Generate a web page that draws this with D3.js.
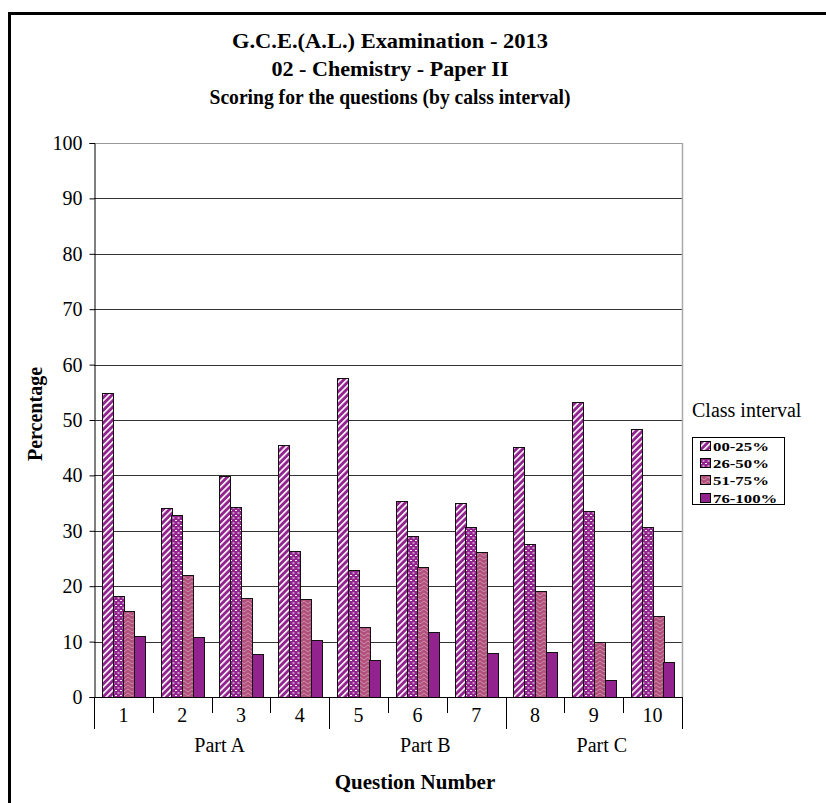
<!DOCTYPE html>
<html>
<head>
<meta charset="utf-8">
<script src="https://cdn.jsdelivr.net/npm/d3@7"></script>
<style>
  html, body { margin: 0; padding: 0; background: #fff; }
  svg { display: block; }
  text { font-family: "Liberation Serif", "Times New Roman", serif; fill: #000; }
</style>
</head>
<body>
<svg id="chart" width="826" height="803"></svg>
<script>
// ---- data ----
const questions = ["1", "2", "3", "4", "5", "6", "7", "8", "9", "10"];
const partOfQuestion = ["Part A", "Part A", "Part A", "Part A", "Part B", "Part B", "Part B", "Part C", "Part C", "Part C"];
const partNames = ["Part A", "Part B", "Part C"];
const seriesNames = ["00-25%", "26-50%", "51-75%", "76-100%"];
const s00_25 = [54.8, 34.2, 39.9, 45.4, 57.6, 35.3, 35.1, 45.1, 53.2, 48.3];
const s26_50 = [18.3, 32.9, 34.3, 26.3, 23.0, 29.1, 30.6, 27.6, 33.5, 30.6];
const s51_75 = [15.6, 22.0, 17.9, 17.7, 12.6, 23.5, 26.1, 19.1, 9.9, 14.7];
const s76_100 = [11.0, 10.8, 7.7, 10.2, 6.6, 11.8, 7.9, 8.1, 3.1, 6.3];
const yTicks = [0, 10, 20, 30, 40, 50, 60, 70, 80, 90, 100];
const titleLines = ["G.C.E.(A.L.) Examination - 2013", "02 - Chemistry - Paper II", "Scoring for the questions (by calss interval)"];
const seriesValues = [s00_25, s26_50, s51_75, s76_100];

// ---- layout ----
const svg = d3.select("#chart");
const plot = { left: 94, right: 682, top: 143, bottom: 697 };
const purple = "#92228E";
const mauve = "#B1507C";

svg.append("rect").attr("width", 826).attr("height", 803).attr("fill", "#fff");

// patterns
const defs = svg.append("defs");
// 00-25%: purple with white upward diagonal stripes
const p0 = defs.append("pattern").attr("id", "pat0").attr("patternUnits", "userSpaceOnUse")
  .attr("width", 4.5).attr("height", 20).attr("patternTransform", "rotate(45)");
p0.append("rect").attr("width", 4.5).attr("height", 20).attr("fill", purple);
p0.append("rect").attr("x", 0).attr("width", 1.6).attr("height", 20).attr("fill", "#fff");
// 26-50%: purple with small staggered white dashes
const p1 = defs.append("pattern").attr("id", "pat1").attr("patternUnits", "userSpaceOnUse")
  .attr("width", 5).attr("height", 5);
p1.append("rect").attr("width", 5).attr("height", 5).attr("fill", purple);
p1.append("rect").attr("x", 0).attr("y", 0).attr("width", 2).attr("height", 1).attr("fill", "#fff");
p1.append("rect").attr("x", 2.5).attr("y", 2.5).attr("width", 2).attr("height", 1).attr("fill", "#fff");
// 51-75%: mauve with faint zig-zag lines
const p2 = defs.append("pattern").attr("id", "pat2").attr("patternUnits", "userSpaceOnUse")
  .attr("width", 8).attr("height", 8);
p2.append("rect").attr("width", 8).attr("height", 8).attr("fill", mauve);
p2.append("path").attr("d", "M0,1 L4,4 L8,1 M0,5 L4,8 M4,8 L8,5").attr("fill", "none")
  .attr("stroke", "#fff").attr("stroke-opacity", 0.45).attr("stroke-width", 0.8);

const fills = ["url(#pat0)", "url(#pat1)", "url(#pat2)", purple];

// frame (left and top)
svg.append("line").attr("x1", 9.5).attr("x2", 9.5).attr("y1", 12).attr("y2", 803).attr("stroke", "#000").attr("stroke-width", 3);
svg.append("line").attr("x1", 8).attr("x2", 826).attr("y1", 13.5).attr("y2", 13.5).attr("stroke", "#000").attr("stroke-width", 3);

// title
const titleWidths = [316, 237, 361];
svg.append("g").selectAll("text").data(titleLines).join("text")
  .attr("x", 390).attr("y", (d, i) => 48 + i * 28)
  .attr("text-anchor", "middle").attr("font-weight", "bold").attr("font-size", 21)
  .attr("textLength", (d, i) => titleWidths[i]).attr("lengthAdjust", "spacingAndGlyphs")
  .text(d => d);

// scales
const y = d3.scaleLinear().domain([0, 100]).range([plot.bottom, plot.top]);
const x = d3.scaleBand().domain(questions).range([plot.left, plot.right]).padding(0);
const xs = d3.scaleBand().domain(seriesNames).range([0, x.bandwidth()]).paddingInner(0).paddingOuter(0.71);

// gridlines
svg.append("g").selectAll("line").data(yTicks.filter(t => t > 0)).join("line")
  .attr("x1", plot.left).attr("x2", plot.right)
  .attr("y1", d => Math.round(y(d)) + 0.5).attr("y2", d => Math.round(y(d)) + 0.5)
  .attr("stroke", d => d === 100 ? "#999" : "#333").attr("stroke-width", 1);
// right plot border
svg.append("line").attr("x1", plot.right + 0.5).attr("x2", plot.right + 0.5)
  .attr("y1", plot.top).attr("y2", plot.bottom).attr("stroke", "#aaa").attr("stroke-width", 1.5);

// y axis
const yAxis = d3.axisLeft(y).tickValues(yTicks).tickSize(5).tickPadding(7);
const yg = svg.append("g").attr("transform", `translate(${plot.left + 0.5},0)`).call(yAxis);
yg.select(".domain").attr("stroke", "#000");
yg.selectAll(".tick line").attr("stroke", "#000");
yg.selectAll(".tick text").attr("font-size", 20).attr("font-family", "Liberation Serif, serif").attr("fill", "#000");

// bars
const barG = svg.append("g");
seriesNames.forEach((s, si) => {
  barG.append("g").selectAll("rect").data(questions).join("rect")
    .attr("x", q => Math.round(x(q) + xs(s)) + 0.5)
    .attr("width", Math.round(xs.bandwidth()))
    .attr("y", (q, qi) => Math.round(y(seriesValues[si][qi])) + 0.5)
    .attr("height", (q, qi) => Math.round(y(0)) - Math.round(y(seriesValues[si][qi])))
    .attr("fill", fills[si])
    .attr("stroke", "#111").attr("stroke-width", 1);
});

// x axis
svg.append("line").attr("x1", plot.left).attr("x2", plot.right + 1)
  .attr("y1", plot.bottom + 0.5).attr("y2", plot.bottom + 0.5).attr("stroke", "#000");
// category boundaries
const boundaries = questions.map((q, i) => i).concat([questions.length]);
const bx = i => i < questions.length ? x(questions[i]) : x(questions[questions.length - 1]) + x.bandwidth();
const isGroupEdge = i => i === 0 || i === questions.length || partOfQuestion[i] !== partOfQuestion[i - 1];
svg.append("g").selectAll("line").data(boundaries).join("line")
  .attr("x1", i => Math.round(bx(i)) + 0.5).attr("x2", i => Math.round(bx(i)) + 0.5)
  .attr("y1", plot.bottom).attr("y2", i => isGroupEdge(i) ? plot.bottom + 32 : plot.bottom + 16)
  .attr("stroke", "#000").attr("stroke-width", 1);
// category labels
svg.append("g").selectAll("text").data(questions).join("text")
  .attr("x", q => x(q) + x.bandwidth() / 2).attr("y", 722)
  .attr("text-anchor", "middle").attr("font-size", 20).text(q => q);
// part labels
svg.append("g").selectAll("text").data(partNames).join("text")
  .attr("x", p => {
    const idx = partOfQuestion.map((d, i) => d === p ? i : -1).filter(i => i >= 0);
    return (bx(idx[0]) + bx(idx[idx.length - 1] + 1)) / 2 + 8;
  })
  .attr("y", 752).attr("text-anchor", "middle").attr("font-size", 20).text(p => p);

// axis titles
svg.append("text").attr("x", 415).attr("y", 789).attr("text-anchor", "middle")
  .attr("font-weight", "bold").attr("font-size", 21).text("Question Number");
svg.append("text").attr("transform", "translate(42,414) rotate(-90)").attr("text-anchor", "middle")
  .attr("font-weight", "bold").attr("font-size", 20).text("Percentage");

// legend
svg.append("text").attr("x", 692).attr("y", 417).attr("font-size", 20).text("Class interval");
svg.append("rect").attr("x", 692.5).attr("y", 437.5).attr("width", 92).attr("height", 67)
  .attr("fill", "#fff").attr("stroke", "#000").attr("stroke-width", 1);
const leg = svg.append("g").selectAll("g").data(seriesNames).join("g")
  .attr("transform", (d, i) => `translate(700,${446 + Math.round(i * 17.2)})`);
leg.append("rect").attr("x", 0.5).attr("y", -4.5).attr("width", 10).attr("height", 9)
  .attr("fill", (d, i) => fills[i]).attr("stroke", "#000").attr("stroke-width", 1);
leg.append("text").attr("transform", "translate(13,4.5) scale(1.4,1)")
  .attr("font-size", 12).attr("font-weight", "bold").text(d => d);
</script>
</body>
</html>
